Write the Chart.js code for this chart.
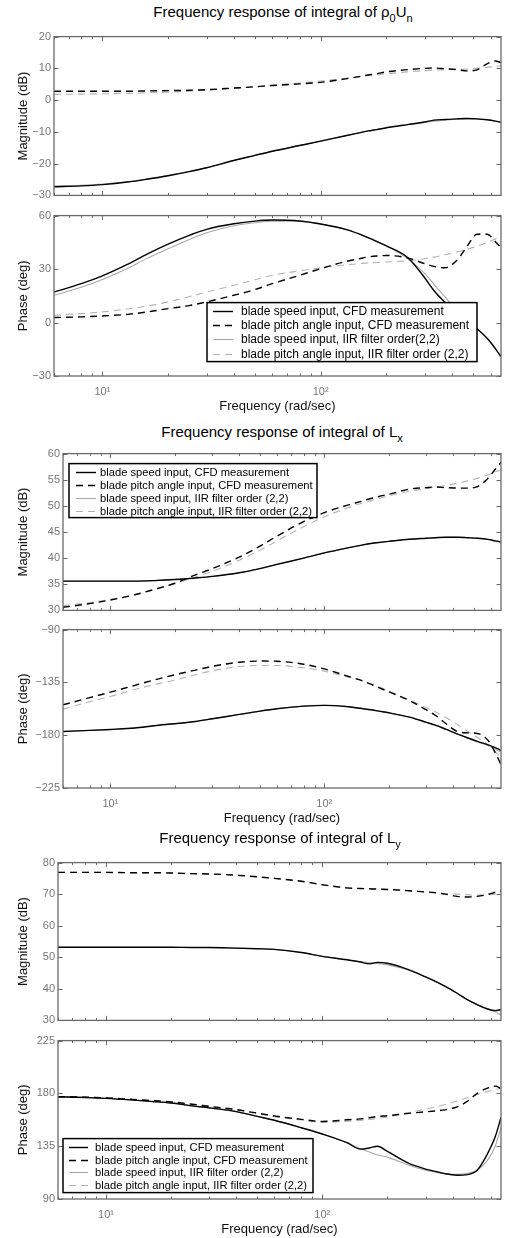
<!DOCTYPE html>
<html>
<head>
<meta charset="utf-8">
<script src="https://cdn.jsdelivr.net/npm/chart.js@4.4.1/dist/chart.umd.min.js"></script>
<style>
  body { margin: 0; background: #fff; width: 506px; height: 1238px; position: relative; overflow: hidden;
         font-family: "Liberation Sans", Arial, sans-serif; }
  .plot { position: absolute; left: 0; width: 506px; }
  .title { position: absolute; width: 400px; font-size: 15px; line-height: 18px; text-align: center; color: #000; white-space: nowrap; }
  .title sub { font-size: 11px; position: relative; top: 1px; vertical-align: sub; line-height: 0; }
</style>
</head>
<body>
<div class="title" style="left:83px;top:3px">Frequency response of integral of ρ<sub>0</sub>U<sub>n</sub></div>
<div class="plot" style="top:27px;height:178px"><canvas id="unMag"></canvas></div>
<div class="plot" style="top:206px;height:212px"><canvas id="unPh"></canvas></div>

<div class="title" style="left:82px;top:423px">Frequency response of integral of L<sub>x</sub></div>
<div class="plot" style="top:444px;height:176px"><canvas id="xMag"></canvas></div>
<div class="plot" style="top:620px;height:210px"><canvas id="xPh"></canvas></div>

<div class="title" style="left:80px;top:829px">Frequency response of integral of L<sub>y</sub></div>
<div class="plot" style="top:853px;height:177px"><canvas id="yMag"></canvas></div>
<div class="plot" style="top:1031px;height:210px"><canvas id="yPh"></canvas></div>

<script>
// frequency grid (rad/sec) and minor/major tick positions of the log axis
const freq = [6, 8, 10, 13, 16, 20, 25, 30, 40, 50, 60, 80, 100, 130, 150, 165, 180, 200, 250, 300, 330, 370, 420, 470, 520, 580, 630, 670];
const freqTicks = [6, 7, 8, 9, 10, 20, 30, 40, 50, 60, 70, 80, 90, 100, 200, 300, 400, 500, 600];

const legendLabelsUn = ['blade speed input, CFD measurement', 'blade pitch angle input, CFD measurement',
  'blade speed input, IIR filter order(2,2)', 'blade pitch angle input, IIR filter order (2,2)'];
const legendLabels = ['blade speed input, CFD measurement', 'blade pitch angle input, CFD measurement',
  'blade speed input, IIR filter order (2,2)', 'blade pitch angle input, IIR filter order (2,2)'];

// rho0 Un - magnitude (dB)
const unMagSpeedCfd = [-27.3, -27.0, -26.6, -25.8, -24.9, -23.8, -22.5, -21.3, -19.0, -17.4, -16.1, -14.3, -12.9, -11.2, -10.3, -9.7, -9.3, -8.7, -7.7, -6.9, -6.3, -6.1, -5.9, -5.8, -5.9, -6.2, -6.6, -7.0];
const unMagPitchCfd = [2.8, 2.8, 2.8, 2.8, 2.9, 3.0, 3.1, 3.3, 3.8, 4.2, 4.6, 5.1, 5.6, 6.7, 7.4, 7.9, 8.3, 8.9, 9.6, 10.0, 10.1, 9.9, 9.6, 9.2, 9.5, 11.5, 12.3, 11.8];
const unMagSpeedIir = [-27.0, -26.8, -26.4, -25.7, -24.8, -23.7, -22.4, -21.3, -19.0, -17.4, -16.1, -14.3, -12.9, -11.2, -10.3, -9.7, -9.3, -8.7, -7.7, -7.0, -6.6, -6.3, -6.0, -5.9, -5.9, -6.2, -6.6, -7.0];
const unMagPitchIir = [1.8, 1.9, 2.0, 2.1, 2.3, 2.5, 2.8, 3.1, 3.7, 4.2, 4.7, 5.4, 6.0, 6.9, 7.4, 7.8, 8.0, 8.3, 8.9, 9.3, 9.4, 9.6, 9.7, 9.8, 10.0, 10.3, 10.6, 10.8];

// rho0 Un - phase (deg)
const unPhSpeedCfd = [17.1, 21.8, 26.2, 32.6, 38.4, 44.0, 48.9, 52.3, 55.4, 56.9, 57.5, 57.0, 55.3, 52.3, 49.7, 47.6, 45.6, 43.0, 36.5, 25.0, 18.0, 11.5, 5.5, 1.0, -3.5, -9.0, -14.5, -19.2];
const unPhPitchCfd = [2.8, 3.2, 3.7, 4.6, 5.9, 7.8, 9.5, 11.6, 15.3, 18.5, 21.8, 26.5, 30.2, 34.2, 35.8, 36.8, 37.3, 37.6, 36.3, 33.0, 31.5, 30.7, 34.8, 43.0, 49.5, 49.5, 45.5, 42.0];
const unPhSpeedIir = [15.3, 19.8, 24.2, 30.3, 36.0, 41.4, 46.6, 50.4, 54.3, 56.0, 56.8, 56.8, 55.3, 52.3, 49.7, 47.6, 45.6, 43.0, 36.0, 27.5, 21.5, 14.5, 7.0, 1.3, -3.5, -9.0, -14.5, -19.5];
const unPhPitchIir = [4.1, 5.0, 6.0, 7.6, 9.2, 11.6, 14.5, 17.1, 20.9, 24.0, 26.5, 29.0, 30.7, 32.4, 33.0, 33.5, 33.7, 34.0, 34.6, 35.8, 36.7, 38.0, 39.5, 41.2, 42.8, 45.0, 46.8, 47.9];

// Lx - magnitude (dB)
const xMagSpeedCfd = [35.6, 35.6, 35.6, 35.6, 35.7, 35.9, 36.2, 36.5, 37.2, 38.0, 38.8, 40.0, 41.0, 42.0, 42.5, 42.8, 43.0, 43.2, 43.6, 43.8, 43.9, 44.0, 44.0, 43.9, 43.8, 43.6, 43.3, 43.1];
const xMagPitchCfd = [30.6, 31.3, 32.0, 33.0, 34.0, 35.2, 36.8, 38.0, 40.2, 42.3, 44.2, 47.0, 48.7, 50.2, 50.9, 51.4, 51.8, 52.2, 53.2, 53.5, 53.6, 53.5, 53.4, 53.4, 53.7, 55.2, 57.0, 58.3];
const xMagSpeedIir = [35.6, 35.6, 35.6, 35.6, 35.7, 35.9, 36.2, 36.5, 37.2, 38.0, 38.8, 40.0, 41.0, 42.0, 42.5, 42.8, 43.0, 43.2, 43.6, 43.8, 43.9, 44.0, 44.0, 43.9, 43.8, 43.6, 43.3, 43.1];
const xMagPitchIir = [30.9, 31.5, 32.1, 33.0, 34.0, 35.1, 36.4, 37.5, 39.6, 41.5, 43.3, 46.0, 47.9, 49.7, 50.5, 51.0, 51.4, 51.9, 52.8, 53.3, 53.6, 53.9, 54.3, 54.8, 55.3, 55.9, 56.5, 56.9];

// Lx - phase (deg)
const xPhSpeedCfd = [-176.8, -175.9, -175.1, -173.9, -171.9, -170.2, -168.3, -166.0, -162.3, -159.5, -157.5, -155.2, -154.6, -155.8, -157.3, -158.3, -159.5, -160.9, -164.6, -169.0, -171.4, -174.9, -179.0, -182.4, -185.3, -188.1, -190.6, -193.0];
const xPhPitchCfd = [-154.1, -148.0, -143.3, -137.5, -133.0, -128.5, -124.5, -121.3, -117.8, -116.8, -117.0, -119.5, -123.5, -130.0, -133.5, -136.5, -139.5, -143.0, -150.5, -158.5, -163.0, -170.0, -177.0, -178.0, -178.5, -184.0, -195.0, -205.0];
const xPhSpeedIir = [-176.8, -175.9, -175.1, -173.9, -171.9, -170.2, -168.3, -166.0, -162.3, -159.5, -157.5, -155.2, -154.6, -155.8, -157.3, -158.3, -159.5, -160.9, -164.6, -169.0, -171.4, -174.9, -179.0, -182.6, -185.8, -188.8, -191.8, -194.8];
const xPhPitchIir = [-157.8, -151.5, -147.0, -141.0, -137.0, -133.0, -128.5, -125.0, -121.5, -120.6, -120.6, -122.5, -125.4, -130.5, -133.5, -136.5, -139.0, -142.5, -150.0, -156.5, -160.0, -165.0, -171.0, -177.0, -182.0, -188.0, -194.0, -199.0];

// Ly - magnitude (dB)
const yMagSpeedCfd = [53.2, 53.2, 53.2, 53.2, 53.2, 53.2, 53.1, 53.1, 52.9, 52.7, 52.5, 51.5, 50.3, 49.2, 48.5, 47.9, 48.4, 48.1, 46.1, 43.8, 42.5, 40.8, 38.6, 36.5, 35.0, 33.6, 33.1, 33.4];
const yMagPitchCfd = [76.9, 76.9, 76.9, 76.8, 76.8, 76.7, 76.5, 76.4, 76.0, 75.5, 75.0, 74.1, 73.0, 72.0, 71.8, 71.7, 71.6, 71.5, 71.1, 70.7, 70.5, 70.0, 69.3, 69.1, 69.3, 69.9, 70.6, 71.0];
const yMagSpeedIir = [53.2, 53.2, 53.2, 53.2, 53.2, 53.2, 53.1, 53.1, 52.9, 52.7, 52.5, 51.5, 50.3, 49.2, 48.6, 48.3, 48.0, 47.6, 46.0, 43.8, 42.5, 40.8, 38.6, 36.5, 35.0, 33.8, 32.7, 31.7];
const yMagPitchIir = [76.9, 76.9, 76.9, 76.8, 76.8, 76.7, 76.5, 76.4, 76.0, 75.5, 75.0, 74.1, 73.0, 72.0, 71.8, 71.7, 71.6, 71.5, 71.1, 70.7, 70.5, 70.2, 70.0, 69.8, 69.7, 69.8, 70.0, 70.3];

// Ly - phase (deg)
const yPhSpeedCfd = [177.2, 176.5, 175.8, 174.5, 173.2, 171.8, 169.4, 167.7, 164.5, 160.4, 157.1, 150.7, 145.4, 138.0, 132.5, 133.5, 135.0, 130.5, 120.5, 115.5, 113.8, 111.5, 110.3, 110.8, 114.5, 128.5, 143.0, 159.5];
const yPhPitchCfd = [177.2, 176.8, 176.2, 175.0, 174.0, 172.8, 170.8, 169.0, 166.2, 163.2, 160.8, 157.9, 156.1, 157.5, 158.3, 159.3, 160.3, 161.0, 163.0, 164.3, 165.0, 166.0, 168.5, 173.5, 180.0, 184.5, 186.2, 184.2];
const yPhSpeedIir = [177.2, 176.5, 175.8, 174.5, 173.2, 171.8, 169.4, 167.7, 164.5, 160.4, 157.1, 150.7, 145.4, 138.0, 133.0, 130.0, 127.5, 125.7, 119.0, 114.5, 113.0, 111.5, 111.0, 112.0, 114.5, 122.9, 135.0, 151.0];
const yPhPitchIir = [177.2, 176.8, 176.2, 175.0, 174.0, 172.8, 170.8, 169.0, 166.0, 162.8, 160.2, 157.3, 155.3, 156.3, 157.0, 157.7, 158.8, 159.8, 163.5, 166.5, 168.3, 170.5, 173.5, 176.5, 179.0, 181.5, 183.3, 184.2];

Chart.defaults.font.family = '"Liberation Sans", Arial, sans-serif';

// line styles in legend order
const lineStyles = [
  { borderColor: '#000000', borderWidth: 1.4, borderDash: [] },
  { borderColor: '#000000', borderWidth: 1.4, borderDash: [7, 5] },
  { borderColor: '#a9a9a9', borderWidth: 1.1, borderDash: [] },
  { borderColor: '#b3b3b3', borderWidth: 1.1, borderDash: [7, 5] }
];

// matlab style box with inward ticks, plus the boxed legend
const boxPlugin = {
  id: 'box',
  afterDraw(chart, args, opts) {
    const { ctx, chartArea: a } = chart;
    const xs = chart.scales.x, ys = chart.scales.y;
    ctx.save();
    ctx.strokeStyle = '#6a6a6a';
    ctx.lineWidth = 1;
    ctx.beginPath();
    xs.ticks.forEach(t => {
      const px = Math.round(xs.getPixelForValue(t.value)) + 0.5;
      const len = t.major ? 4.5 : 2.5;
      ctx.moveTo(px, a.top); ctx.lineTo(px, a.top + len);
      ctx.moveTo(px, a.bottom); ctx.lineTo(px, a.bottom - len);
    });
    ys.ticks.forEach(t => {
      const py = Math.round(ys.getPixelForValue(t.value)) + 0.5;
      ctx.moveTo(a.left, py); ctx.lineTo(a.left + 4.5, py);
      ctx.moveTo(a.right, py); ctx.lineTo(a.right - 4.5, py);
    });
    ctx.stroke();
    ctx.lineWidth = 1.3;
    ctx.strokeRect(a.left, a.top, a.right - a.left, a.bottom - a.top);

    const lg = opts.legend;
    if (lg) {
      const bx = a.left + lg.x, by = a.top + lg.y;
      ctx.fillStyle = '#fff';
      ctx.fillRect(bx, by, lg.w, lg.h);
      ctx.strokeStyle = '#000';
      ctx.lineWidth = 1.5;
      ctx.strokeRect(bx, by, lg.w, lg.h);
      ctx.font = lg.size + 'px "Liberation Sans", Arial, sans-serif';
      ctx.textBaseline = 'middle';
      ctx.textAlign = 'left';
      chart.data.datasets.forEach((ds, i) => {
        const ry = Math.round(by + lg.first + i * lg.step) + 0.5;
        ctx.strokeStyle = ds.borderColor;
        ctx.lineWidth = ds.borderWidth;
        ctx.setLineDash(ds.borderDash);
        ctx.beginPath();
        ctx.moveTo(bx + lg.s0, ry);
        ctx.lineTo(bx + lg.s1, ry);
        ctx.stroke();
        ctx.setLineDash([]);
        ctx.fillStyle = '#000';
        ctx.fillText(ds.label, bx + lg.tx, ry + 0.5);
      });
    }
    ctx.restore();
  }
};

function makePlot(id, series, labels, cfg) {
  const datasets = series.map((values, i) => Object.assign({
    label: labels[i],
    data: values,
    pointRadius: 0,
    fill: false,
    cubicInterpolationMode: 'monotone'
  }, lineStyles[i]));

  return new Chart(document.getElementById(id), {
    type: 'line',
    data: { labels: freq, datasets: datasets },
    plugins: [boxPlugin],
    options: {
      responsive: true,
      maintainAspectRatio: false,
      animation: false,
      events: [],
      layout: { padding: { top: 8, right: 5, left: 0, bottom: cfg.bottomAxis ? 0 : 8 } },
      plugins: {
        legend: { display: false },
        tooltip: { enabled: false },
        box: { legend: cfg.legend || null }
      },
      scales: {
        x: {
          type: 'logarithmic',
          min: 6,
          max: 670,
          grid: { display: false, drawTicks: false },
          border: { display: false },
          afterBuildTicks: s => { s.ticks = freqTicks.map(v => ({ value: v, major: v === 10 || v === 100 })); },
          afterFit: s => { s.height = cfg.bottomAxis ? 42 : 0; },
          ticks: {
            display: !!cfg.bottomAxis,
            autoSkip: false,
            maxRotation: 0,
            padding: 9,
            color: '#777',
            font: { size: 11 },
            callback: v => (v === 10 ? '10\u00b9' : v === 100 ? '10\u00b2' : '')
          },
          title: {
            display: !!cfg.bottomAxis,
            text: 'Frequency (rad/sec)',
            color: '#111',
            font: { size: 13 },
            padding: { top: 0, bottom: 4 }
          }
        },
        y: {
          min: cfg.yMin,
          max: cfg.yMax,
          grid: { display: false, drawTicks: false },
          border: { display: false },
          afterFit: s => { s.width = cfg.left; },
          ticks: {
            stepSize: cfg.yStep,
            padding: 3,
            color: '#777',
            font: { size: 11 },
            callback: v => String(v).replace('-', '\u2212')
          },
          title: {
            display: true,
            text: cfg.yTitle,
            color: '#111',
            font: { size: 13 },
            padding: { top: 16, bottom: 0 }
          }
        }
      }
    }
  });
}

makePlot('unMag', [unMagSpeedCfd, unMagPitchCfd, unMagSpeedIir, unMagPitchIir], legendLabelsUn,
  { left: 54, yMin: -30, yMax: 20, yStep: 10, yTitle: 'Magnitude (dB)' });
makePlot('unPh', [unPhSpeedCfd, unPhPitchCfd, unPhSpeedIir, unPhPitchIir], legendLabelsUn,
  { left: 54, yMin: -30, yMax: 60, yStep: 30, yTitle: 'Phase (deg)', bottomAxis: true,
    legend: { x: 153, y: 87, w: 270, h: 59, first: 8, step: 14.3, s0: 6, s1: 26, tx: 34, size: 12 } });

makePlot('xMag', [xMagSpeedCfd, xMagPitchCfd, xMagSpeedIir, xMagPitchIir], legendLabels,
  { left: 63, yMin: 30, yMax: 60, yStep: 5, yTitle: 'Magnitude (dB)',
    legend: { x: 6, y: 10, w: 248, h: 54, first: 8.5, step: 12.8, s0: 7, s1: 27, tx: 31, size: 11.2 } });
makePlot('xPh', [xPhSpeedCfd, xPhPitchCfd, xPhSpeedIir, xPhPitchIir], legendLabels,
  { left: 63, yMin: -225, yMax: -90, yStep: 45, yTitle: 'Phase (deg)', bottomAxis: true });

makePlot('yMag', [yMagSpeedCfd, yMagPitchCfd, yMagSpeedIir, yMagPitchIir], legendLabels,
  { left: 58, yMin: 30, yMax: 80, yStep: 10, yTitle: 'Magnitude (dB)' });
makePlot('yPh', [yPhSpeedCfd, yPhPitchCfd, yPhSpeedIir, yPhPitchIir], legendLabels,
  { left: 58, yMin: 90, yMax: 225, yStep: 45, yTitle: 'Phase (deg)', bottomAxis: true,
    legend: { x: 5, y: 98, w: 250, h: 54, first: 8.5, step: 12.6, s0: 6, s1: 25, tx: 32, size: 11.2 } });
</script>
</body>
</html>
